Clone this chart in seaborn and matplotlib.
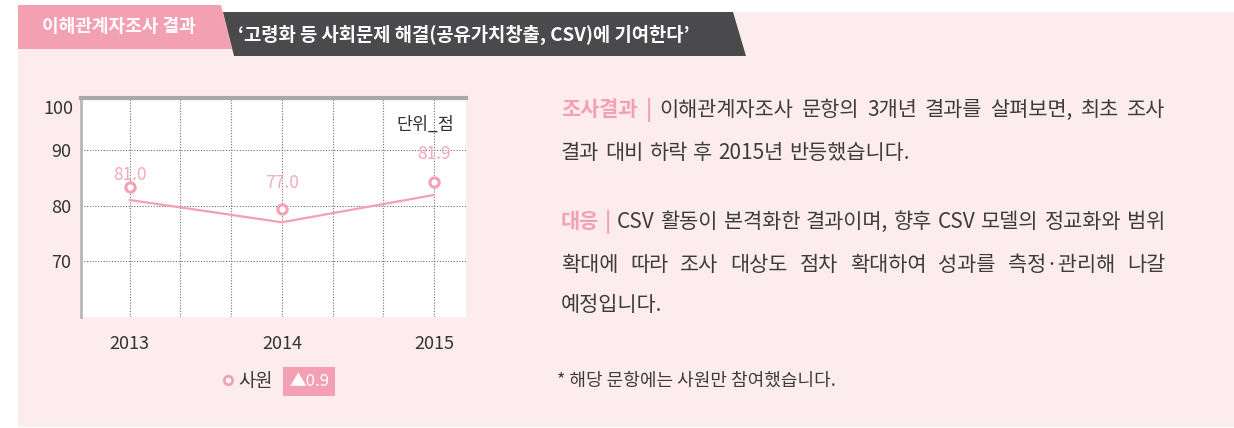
import matplotlib
matplotlib.use('Agg')
import matplotlib.pyplot as plt
from matplotlib.patches import Polygon, Rectangle
from matplotlib.transforms import blended_transform_factory
import seaborn as sns
import pandas as pd

# data
years = [2013, 2014, 2015]
scores = [81.0, 77.0, 81.9]
score_labels = ['81.0', '77.0', '81.9']
y_ticks = [70, 80, 90, 100]
x_ticks = [2013, 2014, 2015]
series_name = '사원'
change_label = '▲0.9'
unit_label = '단위_점'

tab_title = '이해관계자조사 결과'
banner_title = '‘고령화 등 사회문제 해결(공유가치창출, CSV)에 기여한다’'
para1 = [('조사결과 |', 'head', '이해관계자조사 문항의 3개년 결과를 살펴보면, 최초 조사'),
         (None, None, '결과 대비 하락 후 2015년 반등했습니다.')]
para2 = [('대응 |', 'head', 'CSV 활동이 본격화한 결과이며, 향후 CSV 모델의 정교화와 범위'),
         (None, None, '확대에 따라 조사 대상도 점차 확대하여 성과를 측정·관리해 나갈'),
         (None, None, '예정입니다.')]
footnote = '* 해당 문항에는 사원만 참여했습니다.'

PINK = '#f4a0b3'
PINK_TXT = '#f6a9bb'
PANEL = '#fdecee'
DARK = '#4a4a4c'
TXT = '#3c3c3c'
W, H = 1234, 428

sns.set_theme(style='white')
plt.rcParams['font.family'] = ['Noto Sans CJK KR', 'DejaVu Sans']


def fx(x):
    return x / W


def fy(y):
    return 1 - y / H


fig = plt.figure(figsize=(W / 100, H / 100), dpi=100)
fig.patch.set_facecolor('white')

# background panel and header shapes
fig.patches.append(Rectangle((fx(18), fy(427)), fx(1234) - fx(18), fy(12) - fy(427),
                             transform=fig.transFigure, facecolor=PANEL, edgecolor='none', zorder=-2))
tab = [(18, 5), (221, 5), (232, 49), (18, 49)]
fig.patches.append(Polygon([(fx(a), fy(b)) for a, b in tab], closed=True,
                           transform=fig.transFigure, facecolor=PINK, edgecolor='none', zorder=-1))
ban = [(223, 12), (733, 12), (746, 56), (234, 56)]
fig.patches.append(Polygon([(fx(a), fy(b)) for a, b in ban], closed=True,
                           transform=fig.transFigure, facecolor=DARK, edgecolor='none', zorder=-1))
fig.text(fx(119), fy(27), tab_title, color='white', fontsize=13, fontweight='bold',
         ha='center', va='center')
fig.text(fx(238), fy(35), banner_title, color='white', fontsize=13.5, fontweight='bold',
         ha='left', va='center')

# chart
ax = fig.add_axes([fx(81), fy(317), fx(466) - fx(81), fy(98) - fy(317)])
ax.set_facecolor('white')
df = pd.DataFrame({'year': years, 'score': scores})
sns.lineplot(data=df, x='year', y='score', ax=ax, color=PINK, linewidth=1.6, zorder=3)
lift = 2.4
df['marker'] = df['score'] + lift
sns.scatterplot(data=df, x='year', y='marker', ax=ax, s=45, facecolor='white',
                edgecolor=PINK, linewidth=2.2, zorder=4)
label_dy = [8.5, 19, 20]
for xv, yv, lab, dy in zip(years, df['marker'], score_labels, label_dy):
    ax.annotate(lab, (xv, yv), xytext=(0, dy), textcoords='offset points',
                ha='center', va='center', color=PINK_TXT, fontsize=12.5)

ax.set_xlim(2012.68, 2015.21)
ax.set_ylim(60, 99.3)
ax.set_xticks([x_ticks[0] + k / 3 for k in range(7)], minor=True)
ax.set_xticks(x_ticks)
ax.set_xticklabels([str(x) for x in x_ticks])
ax.set_yticks([t for t in y_ticks if t < 99.3])
ax.set_xlabel('')
ax.set_ylabel('')
ax.grid(True, which='both', axis='x', color='#6f6f6f', linestyle=(0, (1, 1.5)), linewidth=0.8)
ax.grid(True, which='major', axis='y', color='#6f6f6f', linestyle=(0, (1, 1.5)), linewidth=0.8)
ax.tick_params(axis='both', which='both', length=0, labelsize=13, colors='#333333')
ax.tick_params(axis='x', pad=13)
ax.tick_params(axis='y', pad=7)
trans = blended_transform_factory(ax.transAxes, ax.transData)
ax.text(-8 / 385, 97.3, str(y_ticks[-1]), transform=trans, ha='right', va='center',
        fontsize=13, color='#333333')
for side in ['right', 'bottom']:
    ax.spines[side].set_visible(False)
ax.spines['left'].set_color('#b8b8b8')
ax.spines['left'].set_linewidth(2)
ax.spines['top'].set_color('#a8a8a8')
ax.spines['top'].set_linewidth(3)
ax.text(0.97, 0.88, unit_label, transform=ax.transAxes, ha='right', va='center',
        fontsize=12.5, color='#333333')

# legend
fig.lines.append(plt.Line2D([fx(228)], [fy(380)], transform=fig.transFigure, marker='o',
                            markersize=6, markerfacecolor='white', markeredgecolor=PINK,
                            markeredgewidth=2))
fig.text(fx(238), fy(381), series_name, color=TXT, fontsize=13.5, ha='left', va='center')
fig.patches.append(Rectangle((fx(283), fy(396)), fx(335) - fx(283), fy(367) - fy(396),
                             transform=fig.transFigure, facecolor=PINK, edgecolor='none'))
fig.text(fx(309), fy(382), change_label, color='white', fontsize=12, ha='center', va='center')

# right-hand text
BODY = 15
renderer = fig.canvas.get_renderer()


def draw_line(x0, y0, pieces, right=None):
    words = []
    for text, color, weight in pieces:
        for w in text.split(' '):
            if w:
                words.append((w, color, weight))
    arts = [fig.text(0, 0, w, color=c, fontweight=wt, fontsize=BODY, va='center', ha='left')
            for w, c, wt in words]
    widths = [t.get_window_extent(renderer).width for t in arts]
    gap = BODY * 100 / 72 * 0.28
    if right is not None and len(arts) > 1:
        gap = (right - x0 - sum(widths)) / (len(arts) - 1)
    x = x0
    for t, w in zip(arts, widths):
        t.set_position((fx(x), fy(y0)))
        x += w + gap


line_y = [110, 153, 222, 265, 305]
rows = para1 + para2
last = [False, True, False, False, True]
for (head, _, body), yy, is_last in zip(rows, line_y, last):
    pieces = []
    if head:
        pieces.append((head, PINK, 'bold'))
    pieces.append((body, TXT, 'normal'))
    draw_line(561, yy, pieces, right=None if is_last else 1165)

fig.text(fx(557), fy(381), footnote, color=TXT, fontsize=13, ha='left', va='center')

fig.savefig('out.png', dpi=100, facecolor=fig.get_facecolor())
